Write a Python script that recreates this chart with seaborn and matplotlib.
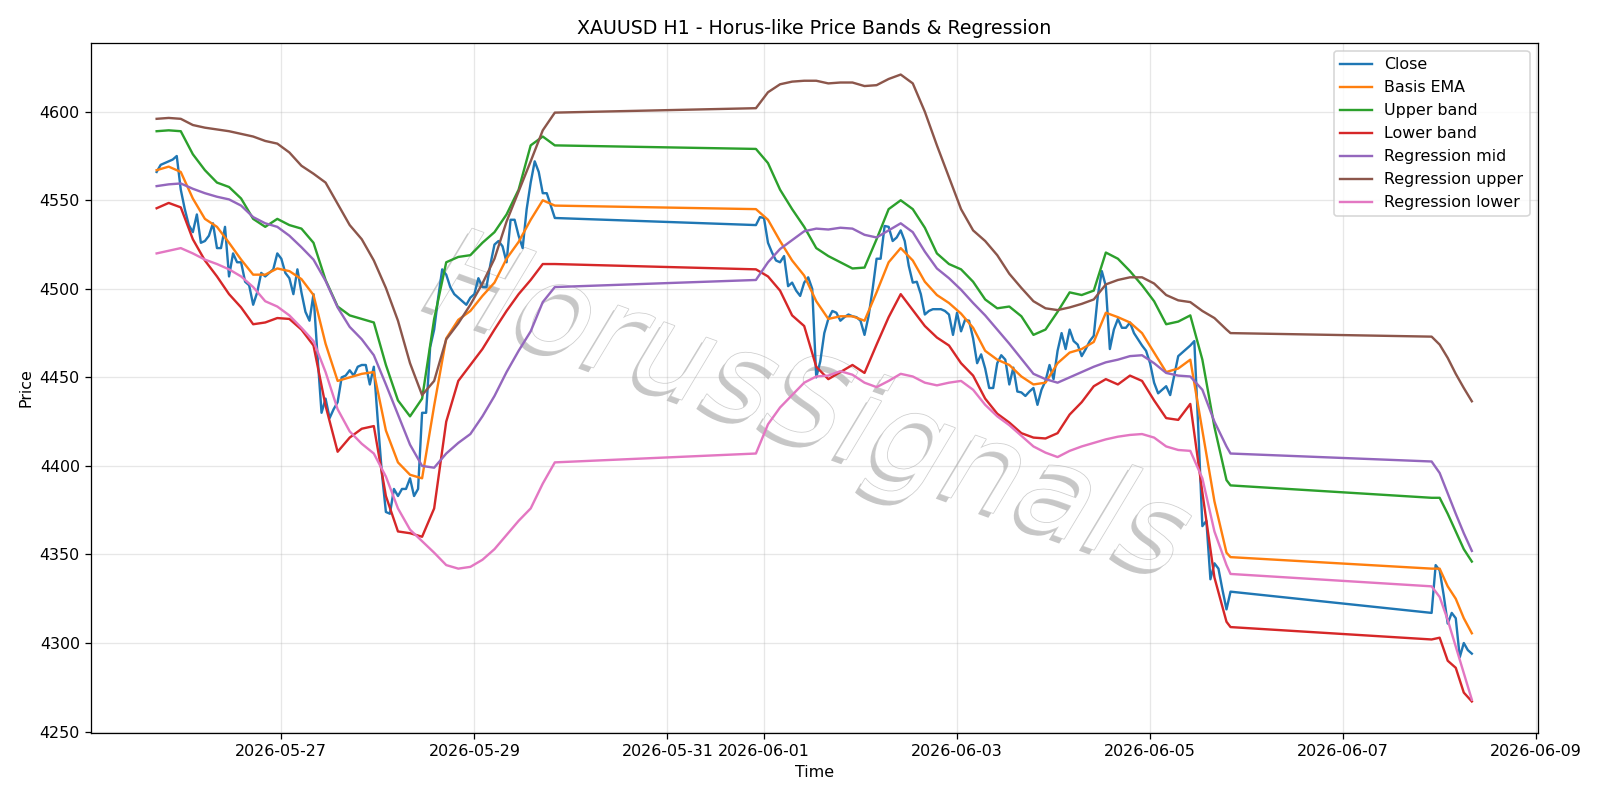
import numpy as np
import pandas as pd
import matplotlib
matplotlib.use('Agg')
import matplotlib.pyplot as plt
import matplotlib.patheffects as pe
import seaborn as sns

# Hourly bars in three trading blocks (weekend gaps in between)
block_start = ['2026-05-25 17:00', '2026-05-31 22:00', '2026-06-07 22:00']
block_end = ['2026-05-29 20:00', '2026-06-05 20:00', '2026-06-08 08:00']

close_1 = [4566, 4570, 4571, 4572, 4573, 4575, 4556, 4545, 4536, 4532,
           4542, 4526, 4527, 4530, 4537, 4523, 4523, 4535, 4507, 4520,
           4515, 4515, 4504, 4502, 4491, 4498, 4509, 4507, 4509, 4511,
           4520, 4517, 4509, 4506, 4497, 4511, 4498, 4487, 4482, 4497,
           4462, 4430, 4438, 4427, 4432, 4436, 4450, 4451, 4454, 4451,
           4456, 4457, 4457, 4446, 4456, 4425, 4396, 4374, 4373, 4387,
           4383, 4387, 4387, 4393, 4383, 4387, 4430, 4430, 4467, 4477,
           4495, 4511, 4508, 4501, 4497, 4495, 4493, 4491, 4495, 4497,
           4506, 4501, 4501, 4514, 4525, 4527, 4524, 4515, 4539, 4539,
           4530, 4523, 4545, 4560, 4572, 4566, 4554, 4554, 4547, 4540]
close_2 = [4536, 4540.5, 4540, 4526, 4520.5, 4516, 4515, 4518.5, 4501.5, 4503.5,
           4499, 4496, 4503.5, 4506.5, 4500, 4450, 4459, 4475, 4483, 4487.5,
           4486.5, 4482, 4484, 4485.5, 4484.5, 4484, 4482, 4474, 4484.5, 4499.5,
           4517, 4517, 4535.5, 4535, 4527, 4529, 4533, 4527, 4513, 4503.5,
           4504, 4497, 4485.5, 4487.5, 4488.5, 4488.5, 4488.5, 4487.5, 4485.5, 4474,
           4486.5, 4476, 4482.5, 4482, 4472, 4458, 4463, 4455, 4444, 4444,
           4458, 4462.5, 4460, 4446, 4455.5, 4442, 4441.5, 4439.5, 4442, 4444,
           4434.5, 4443, 4448, 4457, 4449, 4465, 4475, 4466, 4477, 4470.5,
           4468.5, 4462, 4466, 4470.5, 4473.5, 4496, 4510, 4501.5, 4466, 4477,
           4483, 4478, 4478, 4481, 4475, 4471.5, 4468, 4465, 4458, 4447,
           4441, 4443, 4445, 4440, 4451, 4462, 4464, 4466, 4468, 4470.5,
           4420, 4366, 4369, 4336, 4345, 4342, 4330, 4319, 4329]
close_3 = [4317, 4344, 4341, 4327, 4311, 4317, 4314, 4292, 4300, 4296, 4294]

# Indicator lines, read every 3 hours (every 2 hours in the last block)
ema_1 = [4567, 4569, 4566, 4551, 4539.5, 4535, 4526, 4516.5, 4508, 4508,
         4511.5, 4510, 4505.5, 4496.5, 4469, 4448, 4450, 4452, 4453, 4420,
         4402, 4395, 4393, 4434, 4472, 4482.5, 4487.5, 4496, 4503.5, 4517,
         4526.5, 4539, 4550, 4547]
ema_2 = [4545, 4539, 4527, 4516, 4507.5, 4493, 4483, 4484.5, 4484.5, 4482,
         4498, 4515, 4523, 4516, 4504, 4496.5, 4492, 4486, 4478, 4465,
         4460, 4457, 4450.5, 4446, 4447, 4458, 4464, 4466, 4470, 4486.5,
         4484, 4481, 4475, 4464, 4453, 4455, 4460, 4420, 4380, 4351, 4348.5]
ema_3 = [4342, 4342, 4332, 4325, 4314, 4305.5]

upper_1 = [4589, 4589.5, 4589, 4576, 4567, 4560, 4557.5, 4551, 4539.5, 4535,
           4539.5, 4536, 4534, 4526, 4505, 4490, 4485, 4483, 4481, 4457,
           4437, 4428, 4438, 4483, 4515, 4518, 4519, 4526, 4532, 4542,
           4556, 4581, 4586, 4581]
upper_2 = [4579, 4571, 4556, 4545, 4535, 4523, 4518.5, 4515, 4511.5, 4512,
           4528, 4545, 4550, 4545, 4534.5, 4520, 4514, 4511, 4504, 4494,
           4489, 4490, 4484.5, 4474, 4477, 4487, 4498, 4496.5, 4499, 4520.5,
           4517, 4510, 4502, 4493, 4480, 4481.5, 4485, 4460, 4422, 4392, 4389]
upper_3 = [4382, 4382, 4373, 4363, 4353, 4346]

lower_1 = [4545.5, 4548.5, 4546, 4528, 4516, 4507, 4497, 4489.5, 4480, 4481,
           4483.5, 4483, 4477, 4468, 4434, 4408, 4416, 4421, 4422.5, 4383,
           4363, 4362, 4360, 4376, 4425, 4448, 4457, 4466, 4477, 4487.5,
           4497, 4505, 4514, 4514]
lower_2 = [4511, 4507, 4499, 4485, 4479, 4456, 4449, 4453, 4457, 4452.5,
           4468.5, 4484, 4497, 4488, 4479, 4472.5, 4468, 4458, 4451, 4438,
           4429.5, 4424.5, 4418.5, 4416, 4415.5, 4418.5, 4429, 4436, 4445, 4449,
           4446, 4451, 4448, 4437, 4427, 4426, 4435, 4385, 4337, 4312, 4309]
lower_3 = [4302, 4303, 4290, 4286, 4272, 4267]

reg_mid_1 = [4558, 4559, 4559.5, 4556.5, 4554, 4552, 4550.5, 4547, 4540.5, 4537,
             4535, 4530, 4523.5, 4516.5, 4504.5, 4489.5, 4478.5, 4471.5, 4462.5, 4446,
             4429, 4412, 4400, 4399, 4407, 4413, 4418, 4428, 4439.5, 4453,
             4465, 4476, 4492.5, 4501]
reg_mid_2 = [4505, 4515, 4522.5, 4527.5, 4532.5, 4534, 4533.5, 4534.5, 4534, 4530.5,
             4529, 4533, 4537, 4532, 4521, 4511.5, 4506, 4499.5, 4492, 4485,
             4477, 4469, 4460.5, 4452, 4449, 4447, 4450, 4453, 4456, 4458.5,
             4460, 4462, 4462.5, 4458, 4452.5, 4451, 4450.5, 4443, 4425, 4411, 4407]
reg_mid_3 = [4402.5, 4396, 4384.5, 4373, 4362, 4352]

reg_up_1 = [4596, 4596.5, 4596, 4592.5, 4591, 4590, 4589, 4587.5, 4586, 4583.5,
            4582, 4577, 4569.5, 4565, 4560, 4548, 4536, 4528, 4516, 4500.5,
            4482, 4458, 4440, 4448, 4471.5, 4480.5, 4491, 4503, 4517, 4538,
            4555, 4572, 4589.5, 4599.5]
reg_up_2 = [4602, 4611, 4615.5, 4617, 4617.5, 4617.5, 4616, 4616.5, 4616.5, 4614.5,
            4615, 4618.5, 4621, 4616, 4600, 4581, 4563, 4545, 4533, 4527,
            4519, 4508.5, 4500.5, 4493, 4489, 4488, 4489.5, 4491.5, 4494, 4502.5,
            4505, 4506.5, 4506.5, 4503, 4496.5, 4493.5, 4492.5, 4487.5, 4483.5, 4477, 4475]
reg_up_3 = [4473, 4468.5, 4461, 4452, 4444, 4436.5]

reg_low_1 = [4520, 4521.5, 4523, 4520, 4516.5, 4514, 4511, 4507, 4501, 4493,
             4490, 4485, 4478, 4470.5, 4453, 4432, 4419.5, 4412.5, 4407, 4394,
             4376, 4364, 4357.5, 4351, 4344, 4342, 4343, 4347, 4353, 4361,
             4369, 4376, 4390, 4402]
reg_low_2 = [4407, 4423.5, 4433, 4440, 4447, 4450.5, 4451, 4453.5, 4451.5, 4447,
             4444.5, 4448, 4452, 4450.5, 4447, 4445.5, 4447, 4448, 4443, 4434.5,
             4428, 4423, 4417, 4411, 4407.5, 4405, 4408.5, 4411, 4413, 4415,
             4416.5, 4417.5, 4418, 4416, 4411, 4409, 4408.5, 4393, 4363, 4344, 4339]
reg_low_3 = [4332, 4326, 4313, 4298, 4283, 4268]

# time axes
close_time = pd.DatetimeIndex(np.concatenate([
    pd.date_range(s, e, freq='h') for s, e in zip(block_start, block_end)]))
ind_time = pd.DatetimeIndex(np.concatenate([
    pd.date_range(block_start[0], block_end[0], freq='3h'),
    pd.date_range(block_start[1], '2026-06-05 19:00', freq='3h'),
    pd.DatetimeIndex([block_end[1]]),
    pd.date_range(block_start[2], block_end[2], freq='2h'),
]))

close = close_1 + close_2 + close_3
series = {
    'Basis EMA': ema_1 + ema_2 + ema_3,
    'Upper band': upper_1 + upper_2 + upper_3,
    'Lower band': lower_1 + lower_2 + lower_3,
    'Regression mid': reg_mid_1 + reg_mid_2 + reg_mid_3,
    'Regression upper': reg_up_1 + reg_up_2 + reg_up_3,
    'Regression lower': reg_low_1 + reg_low_2 + reg_low_3,
}
colors = ['tab:blue', 'tab:orange', 'tab:green', 'tab:red',
          'tab:purple', 'tab:brown', 'tab:pink']

close_df = pd.DataFrame({'Time': close_time, 'Price': close})
ind_df = pd.DataFrame({'Time': ind_time, **series})

DPI = 1600 / 14
fig, ax = plt.subplots(figsize=(14, 7), dpi=DPI)
fig.subplots_adjust(left=0.0568, right=0.961, top=0.946, bottom=0.084)

sns.lineplot(data=close_df, x='Time', y='Price', ax=ax, color=colors[0],
             label='Close', linewidth=1.5)
for name, col in zip(series.keys(), colors[1:]):
    sns.lineplot(data=ind_df, x='Time', y=name, ax=ax, color=col,
                 label=name, linewidth=1.5)

# watermark
ax.text(0.505, 0.4875, 'HorusSignals', transform=fig.transFigure,
        fontsize=77, fontstyle='italic', color='white', rotation=-20,
        ha='center', va='center', zorder=1,
        path_effects=[pe.SimplePatchShadow(offset=(-3, -3), shadow_rgbFace='black', alpha=0.22),
                      pe.Stroke(linewidth=1.0, foreground='#cfcfcf'),
                      pe.Normal()])

ax.set_title('XAUUSD H1 - Horus-like Price Bands & Regression')
ax.set_xlabel('Time')
ax.set_ylabel('Price')
ax.grid(True, alpha=0.3)
ax.legend(loc='upper right')

fig.savefig('out.png', dpi=DPI)
